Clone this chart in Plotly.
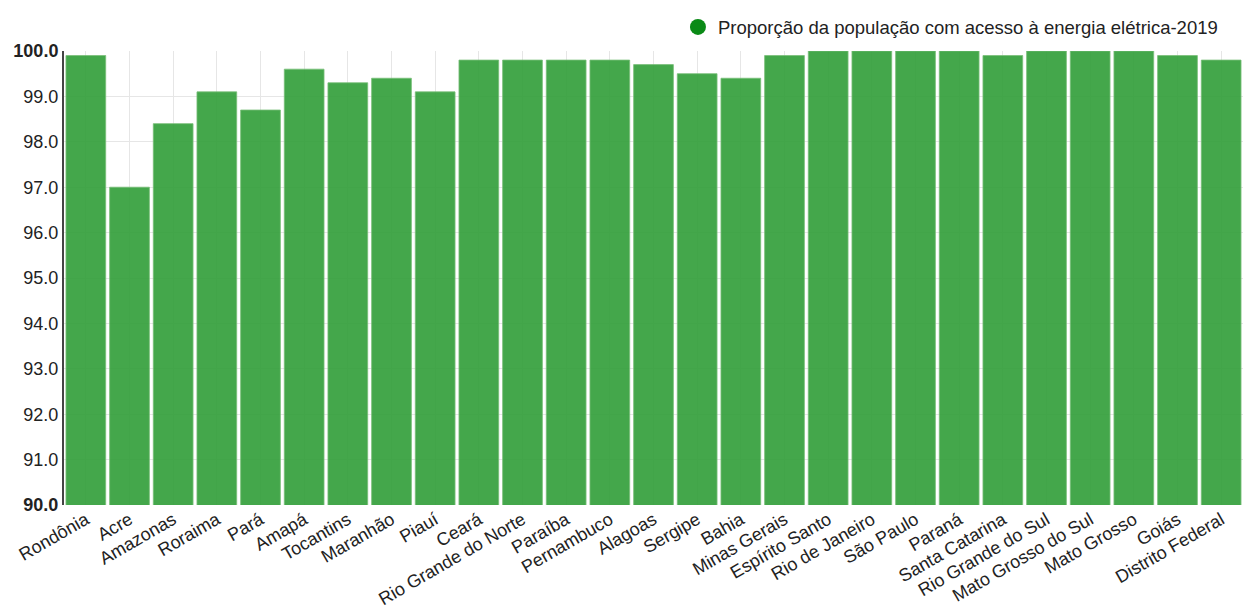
import plotly.graph_objects as go

estados = ["Rondônia", "Acre", "Amazonas", "Roraima", "Pará", "Amapá", "Tocantins",
           "Maranhão", "Piauí", "Ceará", "Rio Grande do Norte", "Paraíba", "Pernambuco",
           "Alagoas", "Sergipe", "Bahia", "Minas Gerais", "Espírito Santo", "Rio de Janeiro",
           "São Paulo", "Paraná", "Santa Catarina", "Rio Grande do Sul", "Mato Grosso do Sul",
           "Mato Grosso", "Goiás", "Distrito Federal"]
valores = [99.9, 97.0, 98.4, 99.1, 98.7, 99.6, 99.3, 99.4, 99.1, 99.8, 99.8, 99.8, 99.8,
           99.7, 99.5, 99.4, 99.9, 100.0, 100.0, 100.0, 100.0, 99.9, 100.0, 100.0, 100.0,
           99.9, 99.8]
serie_nome = "Proporção da população com acesso à energia elétrica-2019"
tick_vals = [90, 91, 92, 93, 94, 95, 96, 97, 98, 99, 100]
tick_text = ["<b>90.0</b>", "91.0", "92.0", "93.0", "94.0", "95.0", "96.0", "97.0",
             "98.0", "99.0", "<b>100.0</b>"]

fig = go.Figure()
fig.add_trace(go.Bar(
    x=estados, y=valores,
    marker=dict(color="rgba(52,160,60,0.92)", line=dict(color="rgba(120,190,120,0.8)", width=1)),
    showlegend=False, name=serie_nome,
))
fig.add_trace(go.Scatter(
    x=[None], y=[None], mode="markers", name=serie_nome,
    marker=dict(color="#0a8a16", size=18, symbol="circle"),
    showlegend=True,
))

fig.update_layout(
    width=1243, height=610,
    margin=dict(l=64, r=0, t=51, b=105),
    paper_bgcolor="white", plot_bgcolor="white",
    bargap=0.09,
    font=dict(family="Liberation Sans, Arial, sans-serif", size=18, color="#222"),
    legend=dict(x=0.983, xanchor="right", y=1.052, yanchor="middle",
                font=dict(size=18.5, color="#222"), itemsizing="trace", itemwidth=30,
                bgcolor="rgba(0,0,0,0)"),
    showlegend=True,
)
fig.update_xaxes(
    tickangle=-30, tickfont=dict(size=18, color="#222"),
    showgrid=True, gridcolor="#e6e6e6", gridwidth=1,
    showline=False, ticks="", ticklen=0,
)
fig.update_yaxes(
    range=[90, 100], tickvals=tick_vals, ticktext=tick_text,
    tickfont=dict(size=18, color="#222"),
    showgrid=True, gridcolor="#e6e6e6", gridwidth=1,
    showline=True, linecolor="#444", linewidth=2,
    ticks="", zeroline=False,
)

fig.write_html("out.html")
